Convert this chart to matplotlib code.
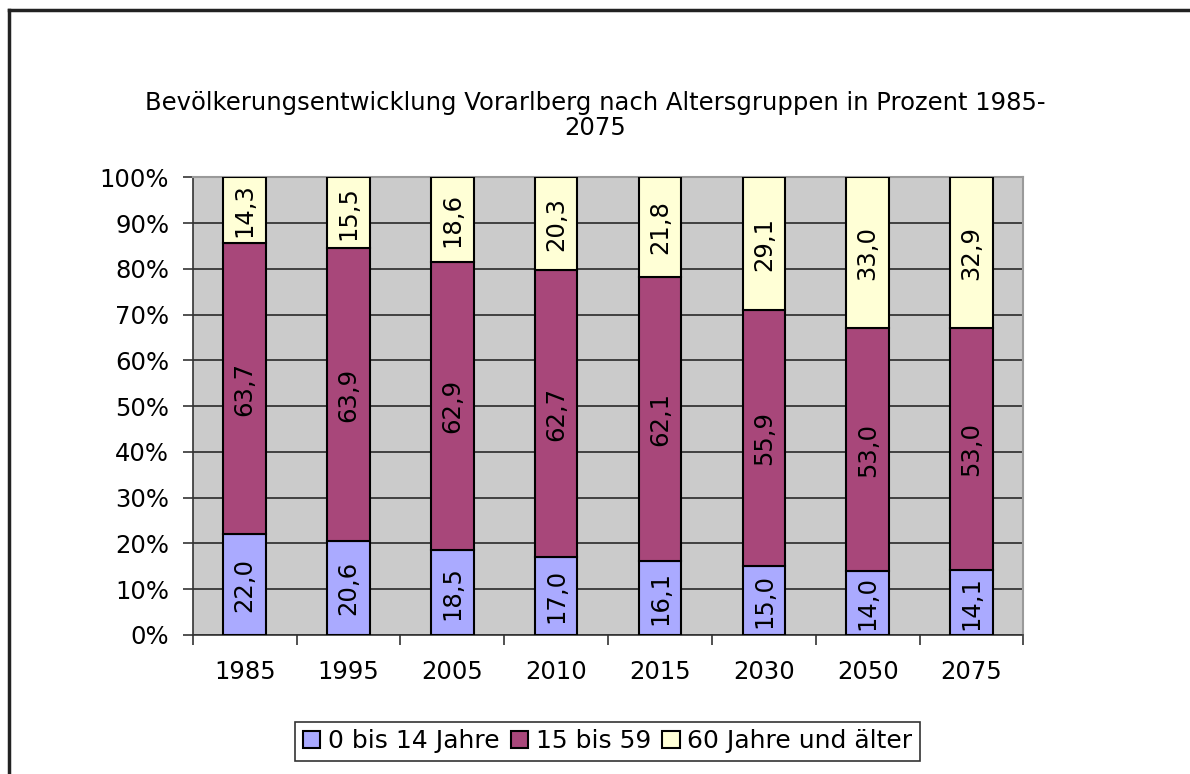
import matplotlib
matplotlib.use("Agg")
import matplotlib.pyplot as plt
import numpy as np
from matplotlib.patches import Patch
from matplotlib.lines import Line2D

years = ["1985", "1995", "2005", "2010", "2015", "2030", "2050", "2075"]
young = [22.0, 20.6, 18.5, 17.0, 16.1, 15.0, 14.0, 14.1]
middle = [63.7, 63.9, 62.9, 62.7, 62.1, 55.9, 53.0, 53.0]
old = [14.3, 15.5, 18.6, 20.3, 21.8, 29.1, 33.0, 32.9]
series_names = ["0 bis 14 Jahre", "15 bis 59", "60 Jahre und älter"]
colors = ["#AAAAFF", "#A8477A", "#FFFFD6"]

plt.rcParams["font.family"] = "DejaVu Sans"

fig = plt.figure(figsize=(11.9, 7.74), dpi=100)
ax = fig.add_axes([0.162, 0.1796, 0.698, 0.5914])
ax.set_facecolor("#CBCBCB")

x = np.arange(len(years))
bottom = np.zeros(len(years))
for vals, col in zip([young, middle, old], colors):
    vals = np.array(vals)
    ax.bar(x, vals, width=0.41, bottom=bottom, color=col,
           edgecolor="black", linewidth=1.5, zorder=3)
    for xi, b, v in zip(x, bottom, vals):
        ax.text(xi, b + v / 2, f"{v:.1f}".replace(".", ","), rotation=90,
                ha="center", va="center", fontsize=17.5, zorder=4)
    bottom += vals

ax.set_xlim(-0.5, len(years) - 0.5)
ax.set_ylim(0, 100)
ax.set_yticks(np.arange(0, 101, 10))
ax.set_yticklabels([f"{v}%" for v in range(0, 101, 10)], fontsize=17.5)
ax.yaxis.grid(True, color="#2a2a2a", linewidth=1.2, zorder=1)
ax.set_axisbelow(True)

# category labels between boundary ticks
ax.set_xticks(x)
ax.set_xticklabels(years, fontsize=17.5)
ax.tick_params(axis="x", length=0, pad=18)
ax.set_xticks(np.arange(-0.5, len(years)), minor=True)
ax.tick_params(axis="x", which="minor", length=7, width=1.2, color="#333333")
ax.tick_params(axis="y", length=7, width=1.2, color="#333333", pad=10)

for side in ["top", "right"]:
    ax.spines[side].set_color("#9a9a9a")
    ax.spines[side].set_linewidth(1.5)
for side in ["left", "bottom"]:
    ax.spines[side].set_color("#333333")
    ax.spines[side].set_linewidth(1.2)

fig.text(0.5, 0.851, "Bevölkerungsentwicklung Vorarlberg nach Altersgruppen in Prozent 1985-\n2075",
         ha="center", va="center", fontsize=17.5, linespacing=1.05)

handles = [Patch(facecolor=c, edgecolor="black", linewidth=1.5) for c in colors]
leg = fig.legend(handles, series_names, loc="center", bbox_to_anchor=(0.5105, 0.0426),
                 ncol=3, fontsize=18, frameon=True, fancybox=False,
                 handlelength=0.7, handleheight=0.7, handletextpad=0.3,
                 columnspacing=0.45, borderpad=0.3, borderaxespad=0)
leg.get_frame().set_edgecolor("black")
leg.get_frame().set_linewidth(1.2)

# outer chart border (top and left only visible)
fig.add_artist(Line2D([9 / 1190, 1], [1 - 10 / 774] * 2, color="#222222", lw=2.5))
fig.add_artist(Line2D([9 / 1190] * 2, [0, 1 - 10 / 774], color="#222222", lw=2.5))

fig.savefig("out.png", dpi=100)
